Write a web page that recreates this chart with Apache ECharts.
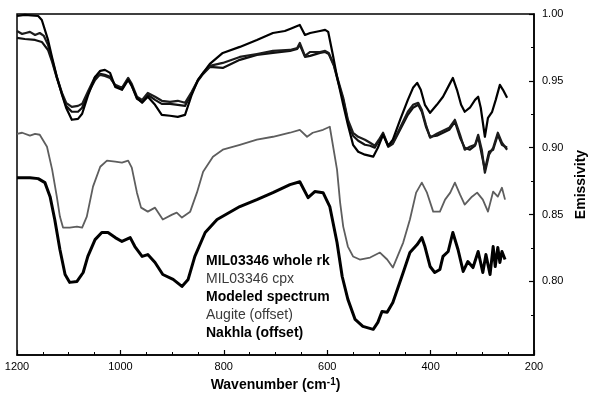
<!DOCTYPE html>
<html>
<head>
<meta charset="utf-8">
<script src="https://cdn.jsdelivr.net/npm/echarts@6/dist/echarts.min.js"></script>
<style>
  html, body { margin: 0; padding: 0; background: #fff; }
  #chart { width: 595px; height: 393px; }
</style>
</head>
<body>
<div id="chart"></div>
<script>
// Thermal-infrared emissivity spectra, [wavenumber (cm-1), emissivity]
const wholeRock = [
  [1200,.9985],[1185,.9993],[1159,.9985],[1152,.9955],[1140,.9806],[1132,.9672],[1123,.9530],
  [1113,.9396],[1105,.9299],[1094,.9209],[1082,.9216],[1074,.9254],[1063,.9388],[1049,.9530],
  [1039,.9575],[1030,.9582],[1020,.9560],[1010,.9455],[997,.9433],[985,.9507],[978,.9463],
  [968,.9373],[958,.9336],[947,.9381],[933,.9321],[920,.9246],[904,.9239],[889,.9231],[875,.9246],
  [862,.9396],[850,.9507],[840,.9560],[827,.9627],[802,.9709],[769,.9754],[736,.9806],[705,.9858],
  [682,.9873],[672,.9888],[658,.9910],[653,.9918],[643,.9843],[633,.9858],[614,.9873],[604,.9881],
  [598,.9866],[589,.9694],[581,.9530],[569,.9321],[560,.9172],[550,.9022],[540,.8970],[527,.8948],
  [511,.8933],[502,.9000],[492,.9097],[482,.9015],[473,.9060],[459,.9209],[444,.9358],[434,.9448],
  [426,.9485],[419,.9433],[411,.9321],[401,.9261],[388,.9321],[376,.9381],[364,.9470],[357,.9522],
  [349,.9433],[341,.9321],[334,.9269],[324,.9299],[314,.9358],[308,.9381],[303,.9299],[295,.9082],
  [289,.9224],[281,.9269],[274,.9358],[266,.9470],[260,.9433],[252,.9373]
];

const cpx = [
  [1200,.9873],[1190,.9851],[1183,.9858],[1175,.9866],[1165,.9843],[1156,.9858],[1148,.9836],
  [1140,.9769],[1132,.9657],[1123,.9530],[1113,.9410],[1105,.9336],[1094,.9306],[1082,.9313],
  [1074,.9328],[1063,.9418],[1049,.9530],[1039,.9545],[1030,.9537],[1020,.9522],[1010,.9470],
  [997,.9448],[985,.9522],[978,.9478],[968,.9381],[958,.9358],[947,.9410],[933,.9381],[920,.9351],
  [904,.9343],[889,.9351],[875,.9336],[862,.9418],[850,.9507],[840,.9560],[827,.9612],[802,.9634],
  [769,.9679],[736,.9701],[705,.9724],[672,.9731],[658,.9746],[653,.9784],[643,.9687],[633,.9716],
  [614,.9716],[604,.9724],[597,.9709],[587,.9619],[579,.9507],[569,.9373],[560,.9209],[550,.9112],
  [540,.9082],[527,.9060],[517,.9037],[508,.9015],[500,.9060],[492,.9112],[482,.9015],[473,.9037],
  [459,.9149],[444,.9269],[434,.9321],[424,.9336],[417,.9284],[409,.9172],[401,.9075],[388,.9104],
  [376,.9127],[364,.9149],[353,.9209],[343,.9097],[334,.8985],[324,.9007],[314,.9022],[308,.9097],
  [301,.8985],[295,.8813],[287,.8948],[279,.9000],[270,.9112],[262,.9037],[252,.8985]
];

const modeled = [
  [1200,.9821],[1185,.9813],[1165,.9806],[1152,.9791],[1140,.9731],[1132,.9642],[1123,.9522],
  [1113,.9403],[1105,.9313],[1094,.9269],[1082,.9269],[1074,.9299],[1063,.9403],[1049,.9507],
  [1039,.9552],[1030,.9545],[1020,.9530],[1010,.9463],[997,.9440],[985,.9515],[978,.9463],
  [968,.9366],[958,.9343],[947,.9396],[933,.9358],[920,.9328],[904,.9328],[889,.9321],[875,.9313],
  [862,.9410],[850,.9500],[840,.9552],[827,.9604],[802,.9597],[769,.9657],[736,.9694],[705,.9709],
  [672,.9724],[658,.9739],[653,.9769],[643,.9679],[633,.9687],[614,.9709],[604,.9716],[597,.9701],
  [587,.9612],[579,.9493],[569,.9358],[560,.9194],[550,.9090],[540,.9052],[527,.9022],[517,.9015],
  [508,.9000],[500,.9052],[492,.9104],[482,.9007],[473,.9030],[459,.9134],[444,.9246],[434,.9299],
  [424,.9321],[417,.9269],[409,.9157],[401,.9082],[388,.9090],[376,.9112],[364,.9134],[353,.9194],
  [343,.9075],[334,.9000],[324,.8985],[314,.9015],[308,.9082],[301,.8948],[295,.8836],[287,.8970],
  [279,.8985],[270,.9097],[262,.9022],[252,.9000]
];

const augite = [
  [1200,.9104],[1190,.9112],[1175,.9090],[1165,.9104],[1156,.9097],[1142,.9007],[1132,.8836],
  [1123,.8634],[1117,.8485],[1111,.8403],[1098,.8403],[1084,.8410],[1074,.8403],[1065,.8485],
  [1053,.8709],[1039,.8858],[1026,.8903],[1010,.8896],[997,.8888],[985,.8903],[978,.8851],
  [968,.8664],[960,.8552],[947,.8522],[933,.8552],[918,.8463],[900,.8500],[891,.8515],[881,.8478],
  [865,.8522],[852,.8664],[840,.8821],[821,.8933],[802,.8985],[769,.9022],[736,.9060],[705,.9082],
  [672,.9112],[653,.9134],[639,.9082],[628,.9112],[608,.9134],[595,.9157],[581,.8836],[575,.8590],
  [569,.8410],[560,.8261],[550,.8187],[537,.8164],[517,.8179],[498,.8216],[484,.8164],[473,.8104],
  [453,.8291],[440,.8463],[428,.8664],[417,.8739],[407,.8664],[395,.8522],[382,.8522],[372,.8612],
  [362,.8664],[353,.8739],[343,.8649],[334,.8575],[320,.8634],[310,.8664],[299,.8612],[289,.8522],
  [279,.8672],[270,.8634],[262,.8701],[256,.8612]
];

const nakhla = [
  [1200,.8776],[1175,.8776],[1159,.8769],[1146,.8739],[1136,.8634],[1127,.8463],[1117,.8239],
  [1107,.8052],[1098,.7993],[1084,.8000],[1072,.8067],[1063,.8187],[1049,.8313],[1036,.8366],
  [1024,.8366],[1010,.8328],[997,.8299],[981,.8328],[972,.8261],[958,.8187],[947,.8201],
  [933,.8142],[918,.8052],[898,.8015],[881,.7963],[869,.8015],[856,.8187],[836,.8366],[813,.8463],
  [769,.8560],[736,.8612],[705,.8664],[672,.8724],[653,.8746],[637,.8627],[624,.8672],[608,.8664],
  [595,.8560],[581,.8291],[571,.8037],[560,.7866],[546,.7716],[531,.7664],[511,.7642],[502,.7694],
  [494,.7776],[484,.7769],[473,.7843],[453,.8067],[440,.8216],[426,.8276],[417,.8328],[411,.8261],
  [401,.8112],[392,.8067],[382,.8090],[376,.8187],[366,.8224],[357,.8366],[347,.8239],[337,.8075],
  [328,.8149],[318,.8104],[308,.8224],[299,.8067],[293,.8201],[285,.8052],[279,.8261],[275,.8112],
  [270,.8254],[266,.8142],[262,.8224],[256,.8164]
];

const majorYTicks = [0.80, 0.85, 0.90, 0.95, 1.00];
const minorYTicks = [0.775, 0.825, 0.875, 0.925, 0.975];

const FONT = '"Liberation Sans", Arial, Helvetica, sans-serif';

const chart = echarts.init(document.getElementById('chart'), null, { renderer: 'canvas' });

const bold = { fontFamily: FONT, fontSize: 14, fontWeight: 'bold', color: '#000' };
const plain = { fontFamily: FONT, fontSize: 14, fontWeight: 'normal', color: '#3a3a3a' };

function spectrum(name, data, color, width) {
  return {
    name, type: 'line', data, showSymbol: false, symbol: 'none',
    xAxisIndex: 0, yAxisIndex: 0,
    lineStyle: { color, width, join: 'round' }, itemStyle: { color },
    emphasis: { disabled: true }, animation: false
  };
}

chart.setOption({
  backgroundColor: '#fff',
  textStyle: { fontFamily: FONT },
  animation: false,
  grid: {
    left: 17, right: 61, top: 14, bottom: 38, outerBoundsMode: 'none', containLabel: false,
    show: true, borderColor: '#000', borderWidth: 1.5, backgroundColor: 'transparent'
  },
  legend: {
    orient: 'vertical', left: 196, top: 249, icon: 'none',
    itemWidth: 0, itemHeight: 0, itemGap: 4, selectedMode: false,
    data: [
      { name: 'MIL03346 whole rk', textStyle: bold },
      { name: 'MIL03346 cpx', textStyle: plain },
      { name: 'Modeled spectrum', textStyle: bold },
      { name: 'Augite (offset)', textStyle: plain },
      { name: 'Nakhla (offset)', textStyle: bold }
    ]
  },
  xAxis: {
    type: 'value', min: 200, max: 1200, interval: 200, inverse: true,
    axisLine: { show: true, lineStyle: { color: '#000', width: 1.5 } },
    axisTick: { show: true, inside: true, length: 5, lineStyle: { color: '#000', width: 1.2 } },
    minorTick: { show: true, splitNumber: 4, length: 3, lineStyle: { color: '#000', width: 1 } },
    splitLine: { show: false },
    axisLabel: { color: '#000', fontSize: 11, margin: 6, fontFamily: FONT, formatter: v => String(v) },
    name: '{t|Wavenumber (cm}{s|-1}{t|)}',
    nameLocation: 'middle', nameGap: 22,
    nameTextStyle: {
      rich: {
        t: { fontFamily: FONT, fontSize: 14, fontWeight: 'bold', color: '#000' },
        s: { fontFamily: FONT, fontSize: 10, fontWeight: 'bold', color: '#000', verticalAlign: 'top', padding: [0, 0, 6, 0] }
      }
    }
  },
  yAxis: [
    {
      type: 'value', position: 'right', min: 0.745, max: 1.0,
      axisLine: { show: true, lineStyle: { color: '#000', width: 1.5 } },
      axisTick: { show: true, inside: true, length: 5, customValues: majorYTicks, lineStyle: { color: '#000', width: 1.2 } },
      axisLabel: {
        color: '#000', fontSize: 11, margin: 8, fontFamily: FONT, customValues: majorYTicks,
        formatter: v => v.toFixed(2)
      },
      splitLine: { show: false },
      name: 'Emissivity', nameLocation: 'middle', nameRotate: 90, nameGap: 40,
      nameTextStyle: { fontFamily: FONT, fontSize: 14, fontWeight: 'bold', color: '#000' }
    },
    {
      type: 'value', position: 'right', min: 0.745, max: 1.0,
      axisLine: { show: false },
      axisTick: { show: true, inside: true, length: 3, customValues: minorYTicks, lineStyle: { color: '#000', width: 1 } },
      axisLabel: { show: false },
      splitLine: { show: false }
    }
  ],
  series: [
    spectrum('Augite (offset)', augite, '#5e5e5e', 1.8),
    spectrum('Nakhla (offset)', nakhla, '#000', 3),
    spectrum('Modeled spectrum', modeled, '#111', 2.2),
    spectrum('MIL03346 cpx', cpx, '#1c1c1c', 2.2),
    spectrum('MIL03346 whole rk', wholeRock, '#000', 2.2)
  ]
});
</script>
</body>
</html>
